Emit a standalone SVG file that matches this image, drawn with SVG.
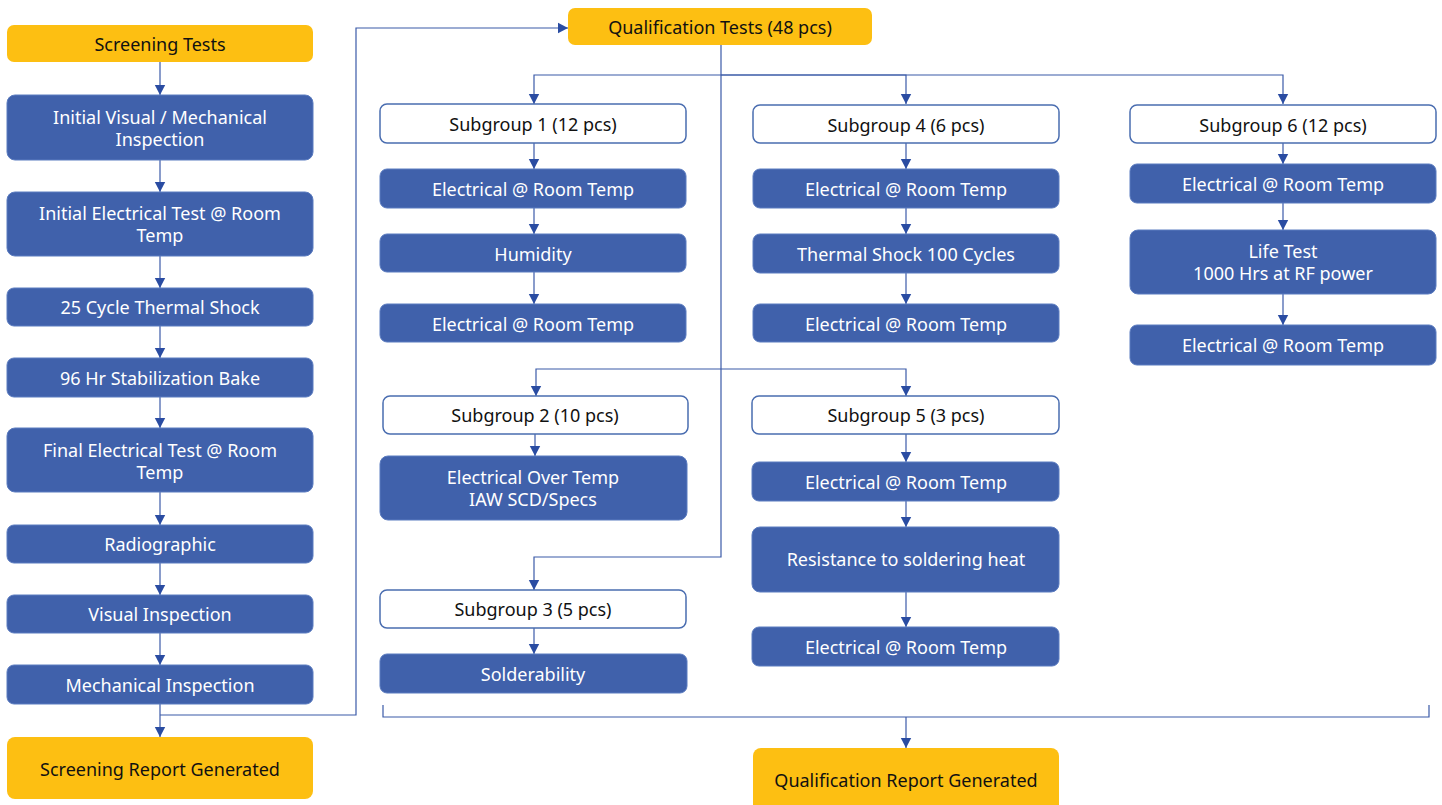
<svg xmlns="http://www.w3.org/2000/svg" width="1442" height="805" viewBox="0 0 1442 805">
  <style>
    .y { fill: #FDBF12; }
    .b { fill: #4061AB; stroke: #5B7CC0; stroke-width: 1; }
    .w { fill: #FFFFFF; stroke: #4A6DB0; stroke-width: 1.5; }
    text { font-family: "Noto Sans", "Open Sans", sans-serif; font-size: 18px; text-anchor: middle; dominant-baseline: central; }
    .tk { fill: #111111; }
    .tw { fill: #FFFFFF; }
    .c { fill: none; stroke: #3B5AA8; stroke-width: 1.2; }
  </style>
  <defs>
    <marker id="ah" markerUnits="userSpaceOnUse" markerWidth="12" markerHeight="12" viewBox="0 0 12 12" refX="10" refY="6" orient="auto">
      <path d="M0,0.8 L10,6 L0,11.2 Z" fill="#2A4CA2"/>
    </marker>
  </defs>

  <rect width="1442" height="805" fill="#FFFFFF"/>

  <!-- connectors -->
  <g id="connectors" class="c">
    <!-- screening chain -->
    <path d="M160,62 V95" marker-end="url(#ah)"/>
    <path d="M160,160 V192" marker-end="url(#ah)"/>
    <path d="M160,256 V288" marker-end="url(#ah)"/>
    <path d="M160,326 V358" marker-end="url(#ah)"/>
    <path d="M160,397 V428" marker-end="url(#ah)"/>
    <path d="M160,492 V525" marker-end="url(#ah)"/>
    <path d="M160,563 V595" marker-end="url(#ah)"/>
    <path d="M160,633 V665" marker-end="url(#ah)"/>
    <path d="M160,704 V737" marker-end="url(#ah)"/>
    <!-- hand-off to qualification -->
    <path d="M160,715 H356 V28 H568" marker-end="url(#ah)"/>
    <!-- qualification trunk and buses -->
    <path d="M721,45 V557 H534 V590" marker-end="url(#ah)"/>
    <path d="M721,75 H534 V104" marker-end="url(#ah)"/>
    <path d="M721,75 H906 V104" marker-end="url(#ah)"/>
    <path d="M721,75 H1283 V104" marker-end="url(#ah)"/>
    <path d="M721,369 H536 V396" marker-end="url(#ah)"/>
    <path d="M721,369 H906 V396" marker-end="url(#ah)"/>
    <!-- subgroup 1 -->
    <path d="M534,143 V169" marker-end="url(#ah)"/>
    <path d="M534,208 V234" marker-end="url(#ah)"/>
    <path d="M534,272 V304" marker-end="url(#ah)"/>
    <!-- subgroup 2 -->
    <path d="M535,434 V456" marker-end="url(#ah)"/>
    <!-- subgroup 3 -->
    <path d="M534,628 V654" marker-end="url(#ah)"/>
    <!-- subgroup 4 -->
    <path d="M906,143 V169" marker-end="url(#ah)"/>
    <path d="M906,208 V234" marker-end="url(#ah)"/>
    <path d="M906,273 V304" marker-end="url(#ah)"/>
    <!-- subgroup 5 -->
    <path d="M906,434 V462" marker-end="url(#ah)"/>
    <path d="M906,501 V527" marker-end="url(#ah)"/>
    <path d="M906,592 V627" marker-end="url(#ah)"/>
    <!-- subgroup 6 -->
    <path d="M1283,143 V164" marker-end="url(#ah)"/>
    <path d="M1283,203 V230" marker-end="url(#ah)"/>
    <path d="M1283,294 V325" marker-end="url(#ah)"/>
    <!-- collector to report -->
    <path d="M383,705 V717 H1429 V705"/>
    <path d="M906,717 V748" marker-end="url(#ah)"/>
  </g>

  <!-- screening column -->
  <g id="screening-tests"><rect class="y" x="7" y="25" width="306" height="37" rx="7"/><text class="tk" x="160" y="44">Screening Tests</text></g>
  <g id="initial-visual"><rect class="b" x="7" y="95" width="306" height="65" rx="8"/><text class="tw" x="160" y="117">Initial Visual / Mechanical</text><text class="tw" x="160" y="139">Inspection</text></g>
  <g id="initial-electrical"><rect class="b" x="7" y="192" width="306" height="64" rx="8"/><text class="tw" x="160" y="213">Initial Electrical Test @ Room</text><text class="tw" x="160" y="235">Temp</text></g>
  <g id="thermal-shock-25"><rect class="b" x="7" y="288" width="306" height="38" rx="7"/><text class="tw" x="160" y="307">25 Cycle Thermal Shock</text></g>
  <g id="stabilization-bake"><rect class="b" x="7" y="358" width="306" height="39" rx="7"/><text class="tw" x="160" y="378">96 Hr Stabilization Bake</text></g>
  <g id="final-electrical"><rect class="b" x="7" y="428" width="306" height="64" rx="8"/><text class="tw" x="160" y="450">Final Electrical Test @ Room</text><text class="tw" x="160" y="472">Temp</text></g>
  <g id="radiographic"><rect class="b" x="7" y="525" width="306" height="38" rx="7"/><text class="tw" x="160" y="544">Radiographic</text></g>
  <g id="visual-inspection"><rect class="b" x="7" y="595" width="306" height="38" rx="7"/><text class="tw" x="160" y="614">Visual Inspection</text></g>
  <g id="mechanical-inspection"><rect class="b" x="7" y="665" width="306" height="39" rx="7"/><text class="tw" x="160" y="685">Mechanical Inspection</text></g>
  <g id="screening-report"><rect class="y" x="7" y="737" width="306" height="62" rx="8"/><text class="tk" x="160" y="769">Screening Report Generated</text></g>

  <!-- qualification -->
  <g id="qualification-tests"><rect class="y" x="568" y="8" width="304" height="37" rx="7"/><text class="tk" x="720" y="27">Qualification Tests (48 pcs)</text></g>

  <g id="subgroup-1"><rect class="w" x="380" y="104" width="306" height="39" rx="7"/><text class="tk" x="533" y="124">Subgroup 1 (12 pcs)</text></g>
  <g id="sg1-elec-a"><rect class="b" x="380" y="169" width="306" height="39" rx="7"/><text class="tw" x="533" y="189">Electrical @ Room Temp</text></g>
  <g id="sg1-humidity"><rect class="b" x="380" y="234" width="306" height="38" rx="7"/><text class="tw" x="533" y="254">Humidity</text></g>
  <g id="sg1-elec-b"><rect class="b" x="380" y="304" width="306" height="38" rx="7"/><text class="tw" x="533" y="324">Electrical @ Room Temp</text></g>

  <g id="subgroup-2"><rect class="w" x="383" y="396" width="305" height="38" rx="7"/><text class="tk" x="535" y="415">Subgroup 2 (10 pcs)</text></g>
  <g id="sg2-over-temp"><rect class="b" x="380" y="456" width="307" height="64" rx="8"/><text class="tw" x="533" y="477">Electrical Over Temp</text><text class="tw" x="533" y="499">IAW SCD/Specs</text></g>

  <g id="subgroup-3"><rect class="w" x="380" y="590" width="306" height="38" rx="7"/><text class="tk" x="533" y="609">Subgroup 3 (5 pcs)</text></g>
  <g id="sg3-solderability"><rect class="b" x="380" y="654" width="307" height="39" rx="7"/><text class="tw" x="533" y="674">Solderability</text></g>

  <g id="subgroup-4"><rect class="w" x="753" y="105" width="306" height="38" rx="7"/><text class="tk" x="906" y="125">Subgroup 4 (6 pcs)</text></g>
  <g id="sg4-elec-a"><rect class="b" x="753" y="169" width="306" height="39" rx="7"/><text class="tw" x="906" y="189">Electrical @ Room Temp</text></g>
  <g id="sg4-thermal-shock"><rect class="b" x="753" y="234" width="306" height="39" rx="7"/><text class="tw" x="906" y="254">Thermal Shock 100 Cycles</text></g>
  <g id="sg4-elec-b"><rect class="b" x="753" y="304" width="306" height="38" rx="7"/><text class="tw" x="906" y="324">Electrical @ Room Temp</text></g>

  <g id="subgroup-5"><rect class="w" x="752" y="396" width="307" height="38" rx="7"/><text class="tk" x="906" y="415">Subgroup 5 (3 pcs)</text></g>
  <g id="sg5-elec-a"><rect class="b" x="752" y="462" width="307" height="39" rx="7"/><text class="tw" x="906" y="482">Electrical @ Room Temp</text></g>
  <g id="sg5-solder-heat"><rect class="b" x="752" y="527" width="307" height="65" rx="8"/><text class="tw" x="906" y="559">Resistance to soldering heat</text></g>
  <g id="sg5-elec-b"><rect class="b" x="752" y="627" width="307" height="39" rx="7"/><text class="tw" x="906" y="647">Electrical @ Room Temp</text></g>

  <g id="subgroup-6"><rect class="w" x="1130" y="105" width="306" height="38" rx="7"/><text class="tk" x="1283" y="125">Subgroup 6 (12 pcs)</text></g>
  <g id="sg6-elec-a"><rect class="b" x="1130" y="164" width="306" height="39" rx="7"/><text class="tw" x="1283" y="184">Electrical @ Room Temp</text></g>
  <g id="sg6-life-test"><rect class="b" x="1130" y="230" width="306" height="64" rx="8"/><text class="tw" x="1283" y="251">Life Test</text><text class="tw" x="1283" y="273">1000 Hrs at RF power</text></g>
  <g id="sg6-elec-b"><rect class="b" x="1130" y="325" width="306" height="40" rx="7"/><text class="tw" x="1283" y="345">Electrical @ Room Temp</text></g>

  <g id="qualification-report"><rect class="y" x="753" y="748" width="306" height="70" rx="8"/><text class="tk" x="906" y="780">Qualification Report Generated</text></g>
</svg>
